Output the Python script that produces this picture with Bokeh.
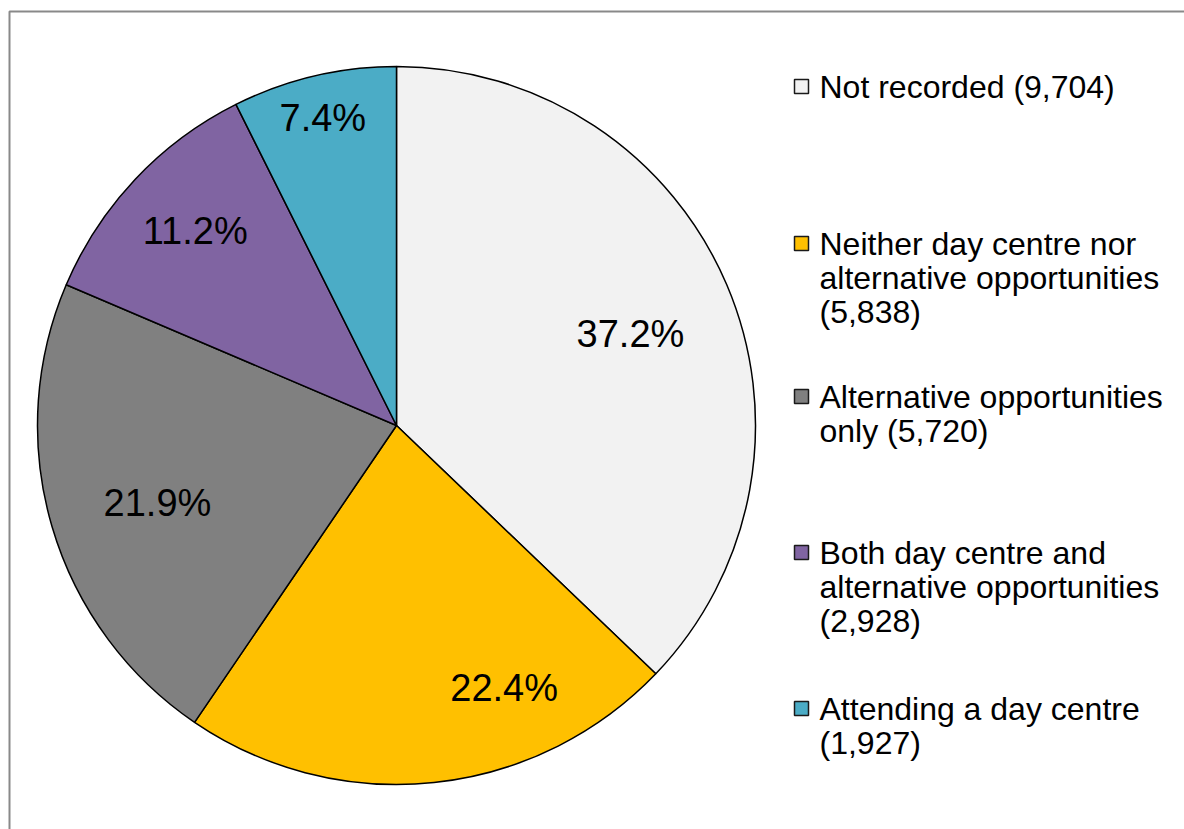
import numpy as np
from bokeh.plotting import figure
from bokeh.models import Range1d
from bokeh.core.properties import value
from bokeh.embed import file_html
from bokeh.resources import INLINE

# --- data -------------------------------------------------------------
categories = [
    "Not recorded",
    "Neither day centre nor alternative opportunities",
    "Alternative opportunities only",
    "Both day centre and alternative opportunities",
    "Attending a day centre",
]
counts = [9704, 5838, 5720, 2928, 1927]
colors = ["#F2F2F2", "#FFC000", "#808080", "#8064A2", "#4BACC6"]

# legend text, wrapped; {n} is replaced by the formatted count
legend_lines = [
    ["Not recorded ({n})"],
    ["Neither day centre nor", "alternative opportunities", "({n})"],
    ["Alternative opportunities", "only ({n})"],
    ["Both day centre and", "alternative opportunities", "({n})"],
    ["Attending a day centre", "({n})"],
]

# --- layout (pixels, measured from the top-left corner) ---------------
W, H = 1184, 829
CX, CY, R = 396, 425, 359
label_radius = [0.70, 0.79, 0.70, 0.78, 0.88]      # fraction of R
label_shift_deg = [1.7, -16.3, -1.6, 0.8, -0.2]    # clockwise nudge
legend_top = [86, 243, 396, 552, 708]
LINE_STEP = 34
SWATCH_X, TEXT_X, SWATCH = 801, 819, 14
FONT = "Liberation Sans"


def fy(py):
    """Convert a top-down pixel row into the plot's bottom-up y."""
    return H - py


p = figure(width=W, height=H, x_range=Range1d(0, W), y_range=Range1d(0, H),
           x_axis_type=None, y_axis_type=None, output_backend="svg",
           toolbar_location=None, min_border=0)
p.grid.visible = False
p.outline_line_color = None
p.background_fill_color = "white"
p.border_fill_color = "white"

# chart-area frame (continues past the right and bottom edges)
p.quad(left=[9], right=[W + 20], top=[fy(11)], bottom=[-20],
       fill_color=None, line_color="#898989", line_width=2)

# --- pie ----------------------------------------------------------------
vals = np.array(counts, dtype=float)
frac = vals / vals.sum()
cum = np.concatenate([[0.0], np.cumsum(frac)])
start = np.pi / 2 - 2 * np.pi * cum[1:]
end = np.pi / 2 - 2 * np.pi * cum[:-1]

p.wedge(x=CX, y=fy(CY), radius=R, start_angle=start, end_angle=end,
        direction="anticlock", fill_color=colors, line_color="black",
        line_width=1.5)

mid = (cum[:-1] + cum[1:]) / 2
theta = np.pi / 2 - 2 * np.pi * mid - np.radians(label_shift_deg)
lx = CX + np.array(label_radius) * R * np.cos(theta)
ly = fy(CY) + np.array(label_radius) * R * np.sin(theta)
pct = [f"{f * 100:.1f}%" for f in frac]
p.text(x=lx, y=ly, text=pct, text_align="center", text_baseline="middle",
       text_font=value(FONT), text_font_size="38px", text_color="black")

# --- legend -------------------------------------------------------------
for i, lines in enumerate(legend_lines):
    y0 = legend_top[i]
    p.rect(x=[SWATCH_X], y=[fy(y0)], width=SWATCH, height=SWATCH,
           fill_color=colors[i], line_color="#1a1a1a", line_width=1.5)
    txt = [ln.format(n=f"{counts[i]:,}") for ln in lines]
    ys = [fy(y0 + k * LINE_STEP) for k in range(len(txt))]
    p.text(x=[TEXT_X] * len(txt), y=ys, text=txt, text_align="left",
           text_baseline="middle", text_font=value(FONT),
           text_font_size="32px", text_color="black")

open("out.html", "w").write(file_html(p, INLINE))
